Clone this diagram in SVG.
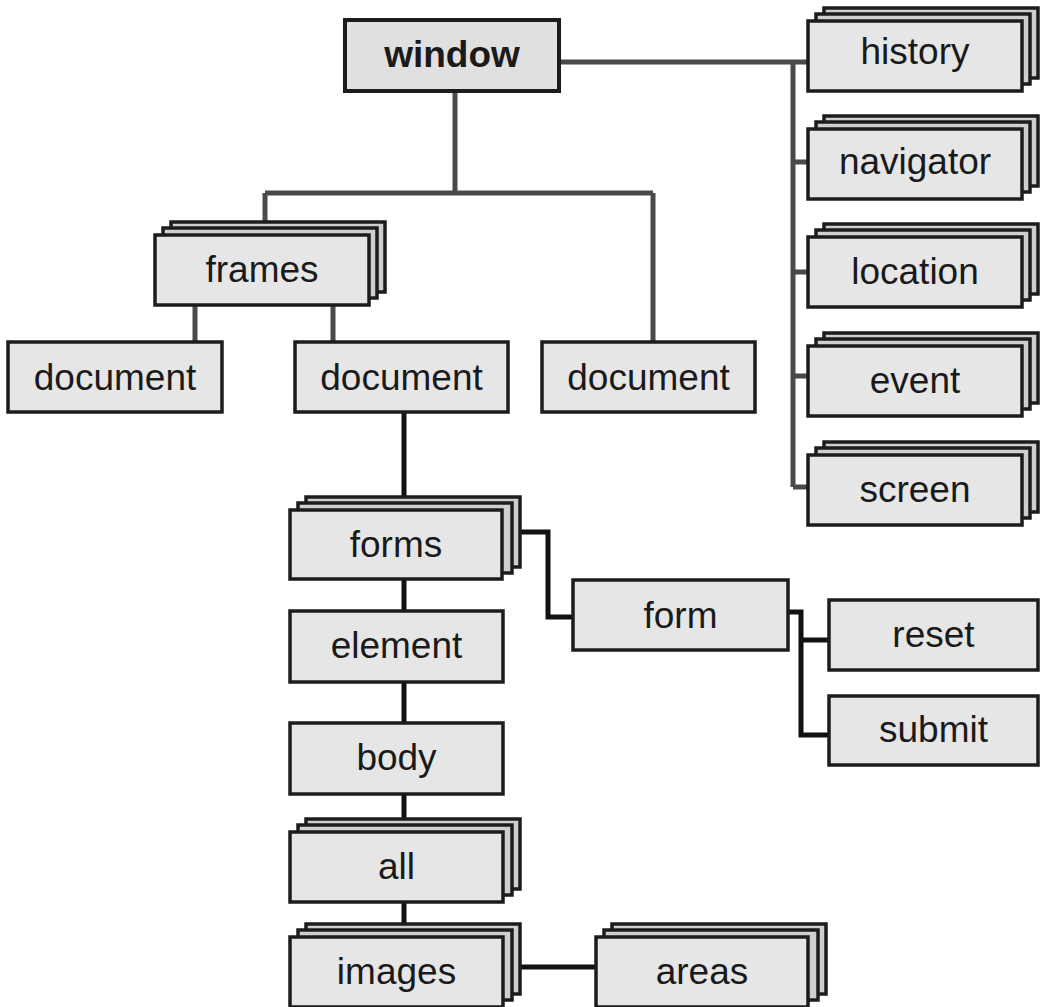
<svg xmlns="http://www.w3.org/2000/svg" width="1041" height="1007" viewBox="0 0 1041 1007">
<style>
.bg{fill:#ffffff}
.box{fill:#e6e6e6;stroke:#1c1c1c;stroke-width:3.5}
.back{fill:#cfcfcf;stroke:#1c1c1c;stroke-width:3.5}
.win{fill:#e0e0e0;stroke:#1c1c1c;stroke-width:4}
.lbl{font-family:"Liberation Sans",Arial,Helvetica,sans-serif;font-size:37px;fill:#1a1a1a;text-anchor:middle}
.bold{font-weight:bold}
.c1{fill:none;stroke:#4a4a4a;stroke-width:5}
.c2{fill:none;stroke:#111111;stroke-width:5}
</style>
<defs>
<g id="stack">
<rect class="back" x="16" y="-13" width="214" height="70"/>
<rect class="back" x="8" y="-7" width="214" height="70"/>
</g>
</defs>
<rect class="bg" x="0" y="0" width="1041" height="1007"/>
<g id="connectors">
<path class="c1" d="M559,62 H808"/>
<path class="c1" d="M793,62 V487 M793,162 H808 M793,272 H808 M793,376 H808 M793,487 H808"/>
<path class="c1" d="M455,91 V193 M265,193 H653 M265,193 V222 M653,193 V342"/>
<path class="c1" d="M195,305 V342 M333,305 V342"/>
<path class="c2" d="M404,412 V497"/>
<path class="c2" d="M404,579 V611"/>
<path class="c2" d="M404,682 V723"/>
<path class="c2" d="M404,794 V819"/>
<path class="c2" d="M404,902 V924"/>
<path class="c2" d="M519,532 H548 V617 H573"/>
<path class="c2" d="M788,612 H801 V735 H829 M801,640 H829"/>
<path class="c2" d="M519,967 H596"/>
</g>
<g id="window">
<rect class="win" x="345" y="20" width="214" height="71"/>
<text class="lbl bold" x="452" y="67">window</text>
</g>
<g id="history">
<use href="#stack" x="808" y="21"/>
<rect class="box" x="808" y="21" width="214" height="70"/>
<text class="lbl" x="915" y="64">history</text>
</g>
<g id="navigator">
<use href="#stack" x="808" y="129"/>
<rect class="box" x="808" y="129" width="214" height="70"/>
<text class="lbl" x="915" y="174">navigator</text>
</g>
<g id="location">
<use href="#stack" x="808" y="237"/>
<rect class="box" x="808" y="237" width="214" height="70"/>
<text class="lbl" x="915" y="284">location</text>
</g>
<g id="event">
<use href="#stack" x="808" y="346"/>
<rect class="box" x="808" y="346" width="214" height="70"/>
<text class="lbl" x="915" y="393">event</text>
</g>
<g id="screen">
<use href="#stack" x="808" y="455"/>
<rect class="box" x="808" y="455" width="214" height="70"/>
<text class="lbl" x="915" y="502">screen</text>
</g>
<g id="frames">
<use href="#stack" x="155" y="235"/>
<rect class="box" x="155" y="235" width="214" height="70"/>
<text class="lbl" x="262" y="282">frames</text>
</g>
<g id="document1">
<rect class="box" x="8" y="342" width="214" height="70"/>
<text class="lbl" x="115" y="390">document</text>
</g>
<g id="document2">
<rect class="box" x="295" y="342" width="213" height="70"/>
<text class="lbl" x="401.5" y="390">document</text>
</g>
<g id="document3">
<rect class="box" x="542" y="342" width="213" height="70"/>
<text class="lbl" x="648.5" y="390">document</text>
</g>
<g id="forms">
<use href="#stack" x="290" y="510"/>
<rect class="box" x="290" y="510" width="212" height="69"/>
<text class="lbl" x="396" y="557">forms</text>
</g>
<g id="element">
<rect class="box" x="290" y="611" width="213" height="71"/>
<text class="lbl" x="396.5" y="658">element</text>
</g>
<g id="form">
<rect class="box" x="573" y="580" width="215" height="70"/>
<text class="lbl" x="680.5" y="628">form</text>
</g>
<g id="reset">
<rect class="box" x="829" y="600" width="209" height="70"/>
<text class="lbl" x="933.5" y="647">reset</text>
</g>
<g id="submit">
<rect class="box" x="829" y="696" width="209" height="69"/>
<text class="lbl" x="933.5" y="742">submit</text>
</g>
<g id="body">
<rect class="box" x="290" y="723" width="213" height="71"/>
<text class="lbl" x="396.5" y="770">body</text>
</g>
<g id="all">
<use href="#stack" x="290" y="832"/>
<rect class="box" x="290" y="832" width="213" height="70"/>
<text class="lbl" x="396.5" y="879">all</text>
</g>
<g id="images">
<use href="#stack" x="290" y="937"/>
<rect class="box" x="290" y="937" width="213" height="70"/>
<text class="lbl" x="396.5" y="984">images</text>
</g>
<g id="areas">
<use href="#stack" x="596" y="937"/>
<rect class="box" x="596" y="937" width="212" height="70"/>
<text class="lbl" x="702" y="984">areas</text>
</g>
</svg>
